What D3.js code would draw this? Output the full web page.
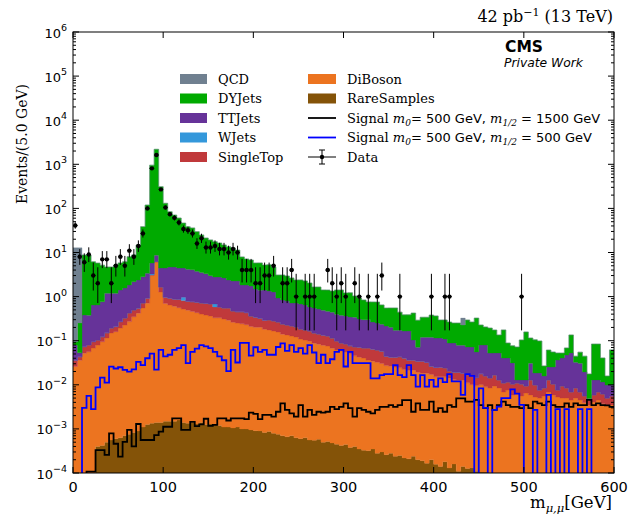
<!DOCTYPE html>
<html><head><meta charset="utf-8">
<script src="https://cdn.jsdelivr.net/npm/d3@7"></script>
<style>body{margin:0;background:#fff}svg{display:block}</style>
</head><body>
<svg id="chart" width="630" height="516"></svg>
<script>
// ---------------- data ----------------
const binWidth = 5;                       // GeV
const binLow = d3.range(0, 600, binWidth); // lower bin edges (categories)

const rareSamples = [0,0,0,0,0,0.0004,0.00042,0.0005,0.00056,0.0006,
0.00063,0.0007,0.00076,0.00083,0.0009,0.0011,0.00126,0.00135,0.0014,0.0014,
0.0015,0.0015,0.0015,0.0016,0.0014,0.00135,0.0014,0.0013,0.0014,0.00126,
0.0013,0.0013,0.0012,0.0011,0.0011,0.00105,0.0011,0.001,0.001,0.00095,
0.00091,0.0009,0.00083,0.00087,0.0008,0.00076,0.0007,0.00066,0.0007,0.00063,
0.0006,0.00063,0.00056,0.00055,0.00058,0.0005,0.00052,0.00048,0.00045,0.00042,
0.00044,0.00038,0.0004,0.00035,0.00033,0.00032,0.00035,0.00028,0.0003,0.00026,
0.00028,0.00024,0.00025,0.00022,0.00021,0.00024,0.0002,0.00019,0.000166,0.0002,
0.000158,0.00014,0.00018,0.00013,0.00016,0.00011,0.00014,0.000126,0.00013,0.00011,
0.000105,0.000105,0,0,0,0,0,0,0,0,
0,0,0,0,0,0,0,0,0,0,
0,0,0,0,0,0,0,0,0,0];

const diBoson = [0.026,0.036,0.052,0.056,0.068,0.079,0.094,0.115,0.149,0.16,
0.193,0.226,0.27,0.35,0.42,0.55,0.71,3.0,6.1,1.27,
0.70,0.64,0.60,0.56,0.52,0.49,0.46,0.43,0.40,0.38,
0.36,0.33,0.33,0.31,0.29,0.26,0.25,0.24,0.23,0.21,
0.20,0.20,0.18,0.175,0.165,0.157,0.14,0.134,0.127,0.12,
0.108,0.103,0.097,0.087,0.083,0.078,0.075,0.067,0.061,0.058,
0.055,0.05,0.045,0.042,0.040,0.036,0.034,0.032,0.030,0.027,
0.026,0.025,0.024,0.022,0.021,0.021,0.019,0.018,0.018,0.017,
0.015,0.015,0.015,0.014,0.013,0.0125,0.0125,0.011,0.0099,0.0094,
0.0099,0.0089,0.0085,0.0094,0.0085,0.0069,0.0076,0.0059,0.0062,0.0056,
0.0065,0.0059,0.0053,0.005,0.0056,0.0069,0.0059,0.0053,0.005,0.005,
0.0045,0.005,0.0045,0.0039,0.0035,0.0041,0.0045,0.0037,0.0035,0.0035];

const singleTop = [0.010,0.007,0.021,0.024,0.027,0.024,0.028,0.035,0.044,0.048,
0.076,0.10,0.155,0.147,0.12,0.165,0.21,0.1,0.1,0.38,
0.27,0.28,0.27,0.30,0.29,0.29,0.30,0.31,0.31,0.32,
0.32,0.25,0.25,0.24,0.26,0.21,0.20,0.21,0.20,0.15,
0.14,0.12,0.11,0.12,0.115,0.107,0.097,0.092,0.088,0.084,
0.075,0.071,0.068,0.061,0.058,0.055,0.052,0.047,0.037,0.030,
0.029,0.026,0.027,0.029,0.028,0.032,0.030,0.029,0.027,0.017,
0.016,0.017,0.019,0.018,0.015,0.015,0.015,0.016,0.014,0.009,
0.0095,0.010,0.009,0.0063,0.006,0.0066,0.0056,0.0057,0.006,0.005,
0.0077,0.0069,0.0058,0.0073,0.0044,0.0041,0.004,0.0045,0.0048,0.0048,
0.0029,0.007,0.0046,0.0026,0.0029,0.006,0.0045,0.0023,0.0044,0.0035,
0.0024,0.0035,0.0024,0.0017,0.001,0.0018,0.0024,0.0025,0.0015,0.0021];

const wJets = [0,0,0,0,0,0,0,0,0,0,
0,0,0,0,0,0,0,0.15,0,0,
0,0,0,0,0.155,0,0,0,0,0,
0,0.10,0,0,0,0,0,0,0,0,
0,0,0,0,0,0,0,0,0,0,
0,0,0,0,0,0,0,0,0,0,
0,0,0,0,0,0,0,0,0,0,
0,0,0,0,0,0,0,0,0,0,
0,0,0,0,0,0,0,0,0,0,
0,0,0,0,0,0,0,0,0,0,
0,0,0,0,0,0,0,0,0,0,
0,0,0,0,0,0,0,0,0,0];

const ttJets = [0.044,0.010,0.31,0.30,0.55,0.54,0.64,1.04,1.0,0.98,
1.14,1.24,1.41,1.68,1.84,2.11,2.45,2.5,2.5,2.8,
3.47,3.76,3.8,3.57,3.46,3.4,3.3,3.0,2.8,2.6,
2.3,2.1,2.2,2.09,1.83,1.79,1.81,1.38,1.4,1.38,
1.14,1.08,1.12,1.05,0.99,0.66,0.60,0.57,0.50,0.51,
0.50,0.47,0.415,0.40,0.38,0.36,0.34,0.33,0.30,0.29,
0.28,0.27,0.27,0.24,0.23,0.23,0.20,0.19,0.18,0.17,
0.16,0.13,0.13,0.125,0.13,0.067,0.037,0.086,0.088,0.094,
0.09,0.09,0.085,0.068,0.069,0.06,0.061,0.055,0.056,0.041,
0.062,0.064,0.038,0.036,0.040,0.0295,0.029,0.021,0.0019,0.0025,
0.0035,0.018,0.0086,0.011,0.0073,0.0124,0.015,0.029,0.031,0.039,
0.046,0.024,0.024,0.014,0.0004,0.007,0.006,0.0054,0.0049,0.0043];

const dyJets = [0.014,0.20,8.4,8.4,5.5,5.1,4.4,3.5,3.5,4.0,
4.4,4.6,6.2,6.6,12.4,35.7,116,951,2180,306,
126,79,66,56,42,34,32,26,21.5,18,
16.3,14.8,13.6,12.2,11.1,10.4,9.1,6.1,5.3,5.0,
4.3,4.4,3.8,3.9,3.4,2.16,2.25,2.13,1.93,1.66,
1.70,1.62,1.45,1.10,1.13,0.92,0.94,0.89,1.01,1.03,
0.85,0.87,0.69,0.62,0.54,0.46,0.49,0.50,0.41,0.335,
0.35,0.38,0.27,0.22,0.22,0.32,0.22,0.22,0.22,0.26,
0.25,0.18,0.186,0.176,0.163,0.172,0.147,0.223,0.193,0.27,
0.147,0.125,0.141,0.122,0.082,0.135,0.048,0.045,0.059,0.091,
0.145,0.084,0.086,0.08,0.011,0.036,0.030,0.016,0.012,0.021,
0.082,0.012,0.024,0.025,0.0127,0.071,0.071,0.029,0.0059,0.052];

const qcd = [12.7,12.5,0,0,0,0,0,0,0,0,
0,0,0,0,0,0,0,0,0,0,
0,0,0,0,0,0,0,0,0,0,
0,0,0,0,0,0,0,0,0,0,
0,0,0,0,0,0,0,0,0,0,
0,0,0,0,0,0,0,0,0,0,
0,0,0,0,0,0,0,0,0,0,
0,0,0,0,0,0,0,0,0,0,
0,0,0,0,0,0,0.10,0,0,0,
0,0,0,0,0,0,0,0,0,0,
0,0,0,0,0,0,0,0,0,0,
0,0,0,0,0,0,0,0,0,0];

const signal1500 = [0,0,0,0.000107,0.000107,0.00033,0.00033,0.000257,0.00079,0.00046,
0.000234,0.00051,0.00095,0.0004,0.00129,0.00056,0.00056,0.00056,0.00072,0.00087,
0.00112,0.00112,0.00174,0.00174,0.00095,0.00095,0.00145,0.00115,0.00126,0.0017,
0.00117,0.00123,0.00174,0.00174,0.00155,0.00174,0.00174,0.00174,0.00166,0.00234,
0.00219,0.00166,0.00209,0.00209,0.0019,0.00245,0.0038,0.0027,0.00224,0.0019,
0.00347,0.0019,0.0027,0.00209,0.00245,0.00234,0.00245,0.00316,0.00282,0.00316,
0.0038,0.00295,0.0019,0.00295,0.0027,0.00245,0.00224,0.0027,0.00316,0.00316,
0.00347,0.00316,0.00347,0.00447,0.00447,0.00245,0.0038,0.0027,0.0027,0.00417,
0.00245,0.00295,0.00245,0.00347,0.00316,0.0049,0.0049,0.00417,0.00417,0.00457,
0.00347,0.00295,0.00347,0.0027,0.00347,0.00417,0.00347,0.00316,0.00316,0.00295,
0.00347,0.00295,0.00417,0.0038,0.00347,0.00417,0.00347,0.00316,0.00316,0.0038,
0.00316,0.0038,0.00347,0.00347,0.00457,0.00347,0.0038,0.00347,0.0034,0.00316];

const signal500 = [0,0,0.003,0.0056,0.0028,0.0087,0.0145,0.0112,0.0257,0.0234,
0.025,0.0219,0.02,0.0224,0.033,0.028,0.04,0.051,0.022,0.062,
0.044,0.048,0.062,0.068,0.079,0.031,0.056,0.066,0.079,0.074,
0.068,0.056,0.044,0.036,0.0204,0.062,0.032,0.089,0.089,0.046,
0.071,0.056,0.062,0.048,0.048,0.072,0.087,0.059,0.079,0.056,
0.068,0.051,0.079,0.054,0.031,0.048,0.031,0.038,0.056,0.062,
0.026,0.056,0.031,0.031,0.031,0.031,0.014,0.014,0.0166,0.0174,
0.0174,0.028,0.0166,0.015,0.028,0.0166,0.0091,0.0166,0.0091,0.0129,
0.0091,0.014,0.0115,0.0174,0.012,0.012,0.0059,0.0174,0.016,0,
0.0083,0.003,0,0.0027,0.0032,0.005,0.005,0.0079,0.0063,0.0035,
0,0,0.0027,0,0,0.0059,0,0.0028,0,0.0028,
0,0,0.0028,0,0.0028,0,0,0,0,0];

const dataCounts = [41,8,6,9,3,2,7,7,2,5,
8,5,11,8,14,27,100,810,1620,270,
105,74,61,48,34,32,27,16,21,13,
13,14,12,12,10,12,10,4,4,4,
2,2,3,3,5,0,2,2,4,1,
0,1,1,1,0,0,4,2,1,2,
1,0,2,1,0,1,0,1,3,0,
0,0,1,0,0,0,0,0,0,1,
0,0,1,1,0,0,0,0,0,0,
0,0,0,0,0,0,0,0,0,1,
0,0,0,0,0,0,0,0,0,0,
0,0,0,0,0,0,0,0,0,0];

const yTickExponents = [-4,-3,-2,-1,0,1,2,3,4,5,6];
const xTickValues = [0,100,200,300,400,500,600];

const stackKeys = ["RareSamples","DiBoson","SingleTop","WJets","TTJets","DYJets","QCD"];
const seriesData = {RareSamples:rareSamples, DiBoson:diBoson, SingleTop:singleTop,
  WJets:wJets, TTJets:ttJets, DYJets:dyJets, QCD:qcd};
const fillColor = {QCD:"#708090", DYJets:"#00aa00", TTJets:"#663399", WJets:"#3498db",
  SingleTop:"#c0393b", DiBoson:"#ec7420", RareSamples:"#845308"};

// ---------------- layout ----------------
const L = 73, R = 614, T = 32, B = 473;
const svg = d3.select("#chart");
const x = d3.scaleLinear().domain([0, 600]).range([L, R]);
const y = d3.scaleLog().domain([1e-4, 1e6]).range([B, T]);
const FLOOR = 1e-6;
const yv = v => y(Math.max(v, FLOOR));

svg.append("defs").append("clipPath").attr("id","plotclip")
  .append("rect").attr("x",L).attr("y",T).attr("width",R-L).attr("height",B-T);
const plot = svg.append("g").attr("clip-path","url(#plotclip)");

// stacked histogram
const rows = binLow.map((b,i) => { const r = {bin:b}; stackKeys.forEach(k => r[k] = seriesData[k][i]); return r; });
const stacked = d3.stack().keys(stackKeys)(rows);
const area = d3.area().x(p => x(p.x)).y0(p => yv(p.lo)).y1(p => yv(p.hi));
stacked.forEach(layer => {
  const pts = [];
  layer.forEach((d,i) => {
    pts.push({x:binLow[i], lo:d[0], hi:d[1]}, {x:binLow[i]+binWidth, lo:d[0], hi:d[1]});
  });
  plot.append("path").attr("d", area(pts)).attr("fill", fillColor[layer.key])
    .attr("stroke", fillColor[layer.key]).attr("stroke-width", 0.3);
});

// signal step lines
const stepLine = d3.line().x(p => x(p.x)).y(p => yv(p.v));
function drawStep(vals, color) {
  const pts = [];
  vals.forEach((v,i) => pts.push({x:binLow[i], v}, {x:binLow[i]+binWidth, v}));
  plot.append("path").attr("d", stepLine(pts)).attr("fill","none")
    .attr("stroke", color).attr("stroke-width", 1.8).attr("stroke-linejoin","miter");
}
drawStep(signal1500, "#000000");
drawStep(signal500, "#0000ff");

// data points with Poisson (Garwood) errors
const errLo = n => n * Math.pow(1 - 1/(9*n) - 1/(3*Math.sqrt(n)), 3);
const errHi = n => (n+1) * Math.pow(1 - 1/(9*(n+1)) + 1/(3*Math.sqrt(n+1)), 3);
const dg = plot.append("g");
dataCounts.forEach((n,i) => {
  if (n <= 0) return;
  const cx = x(binLow[i] + binWidth/2), cy = y(n);
  dg.append("line").attr("x1",cx).attr("x2",cx).attr("y1",y(errHi(n))).attr("y2",y(errLo(n)))
    .attr("stroke","#000").attr("stroke-width",1);
  dg.append("line").attr("x1",x(binLow[i])).attr("x2",x(binLow[i]+binWidth)).attr("y1",cy).attr("y2",cy)
    .attr("stroke","#000").attr("stroke-width",1);
  dg.append("circle").attr("cx",cx).attr("cy",cy).attr("r",2.2).attr("fill","#000");
});

// ---------------- axes ----------------
const ax = svg.append("g");
ax.append("rect").attr("x",L).attr("y",T).attr("width",R-L).attr("height",B-T)
  .attr("fill","none").attr("stroke","#000").attr("stroke-width",1);
yTickExponents.forEach(e => {
  const yy = y(Math.pow(10,e));
  ax.append("line").attr("x1",L).attr("x2",L+6).attr("y1",yy).attr("y2",yy).attr("stroke","#000");
  ax.append("line").attr("x1",R).attr("x2",R-6).attr("y1",yy).attr("y2",yy).attr("stroke","#000");
  if (e < 6) for (let m=2; m<10; m++) {
    const ym = y(m*Math.pow(10,e));
    ax.append("line").attr("x1",L).attr("x2",L+3).attr("y1",ym).attr("y2",ym).attr("stroke","#000");
    ax.append("line").attr("x1",R).attr("x2",R-3).attr("y1",ym).attr("y2",ym).attr("stroke","#000");
  }
  const t = ax.append("text").attr("x",67).attr("y",yy+5.5).attr("text-anchor","end")
    .attr("font-family","DejaVu Sans").attr("font-size",13);
  t.append("tspan").text("10");
  t.append("tspan").attr("dy",-6.5).attr("font-size",9.5).text(String(e).replace("-","\u2212"));
});
xTickValues.forEach(v => {
  const xx = x(v);
  ax.append("line").attr("x1",xx).attr("x2",xx).attr("y1",B).attr("y2",B-6).attr("stroke","#000");
  ax.append("line").attr("x1",xx).attr("x2",xx).attr("y1",T).attr("y2",T+6).attr("stroke","#000");
  ax.append("text").attr("x",xx).attr("y",B+19).attr("text-anchor","middle")
    .attr("font-family","DejaVu Sans").attr("font-size",14.5).text(v);
});

// axis labels
svg.append("text").attr("transform","translate(27,144) rotate(-90)").attr("text-anchor","middle")
  .attr("font-family","DejaVu Serif").attr("font-size",14).text("Events/(5.0 GeV)");
const xl = svg.append("text").attr("x",612).attr("y",508).attr("text-anchor","end")
  .attr("font-family","DejaVu Serif").attr("font-size",16.5);
xl.append("tspan").text("m");
xl.append("tspan").attr("dy",4).attr("font-size",11.5).attr("font-style","italic").text("\u03bc,\u03bc");
xl.append("tspan").attr("dy",-4).text("[GeV]");

// title / labels
const tt = svg.append("text").attr("x",613).attr("y",22).attr("text-anchor","end")
  .attr("font-family","DejaVu Serif").attr("font-size",16);
tt.append("tspan").text("42 pb");
tt.append("tspan").attr("dy",-6.5).attr("font-size",11).text("\u22121");
tt.append("tspan").attr("dy",6.5).text(" (13 TeV)");
svg.append("text").attr("x",505).attr("y",52).attr("font-family","DejaVu Sans").attr("font-weight","bold")
  .attr("font-size",15.5).text("CMS");
svg.append("text").attr("x",504).attr("y",67).attr("font-family","DejaVu Sans").attr("font-style","italic")
  .attr("font-size",12.3).text("Private Work");

// ---------------- legend ----------------
const lg = svg.append("g");
const rowY = [79, 98.5, 118, 137.5, 157];
const leftKeys = ["QCD","DYJets","TTJets","WJets","SingleTop"];
leftKeys.forEach((k,i) => {
  lg.append("rect").attr("x",180).attr("y",rowY[i]-5).attr("width",27).attr("height",10).attr("fill",fillColor[k]);
  lg.append("text").attr("x",218).attr("y",rowY[i]+4.5).attr("font-family","DejaVu Serif").attr("font-size",13).text(k);
});
["DiBoson","RareSamples"].forEach((k,i) => {
  lg.append("rect").attr("x",308).attr("y",rowY[i]-5).attr("width",28).attr("height",10).attr("fill",fillColor[k]);
  lg.append("text").attr("x",347).attr("y",rowY[i]+4.5).attr("font-family","DejaVu Serif").attr("font-size",13).text(k);
});
function signalLabel(yy, m12) {
  const t = lg.append("text").attr("x",347).attr("y",yy+4.5).attr("font-size",13);
  t.append("tspan").attr("font-family","DejaVu Serif").text("Signal ");
  t.append("tspan").attr("font-family","DejaVu Serif").attr("font-style","italic").text("m");
  t.append("tspan").attr("font-family","DejaVu Serif").attr("font-style","italic").attr("font-size",9).attr("dy",3).text("0");
  t.append("tspan").attr("font-family","DejaVu Sans").attr("dy",-3).text("= 500 GeV, ");
  t.append("tspan").attr("font-family","DejaVu Serif").attr("font-style","italic").text("m");
  t.append("tspan").attr("font-family","DejaVu Serif").attr("font-style","italic").attr("font-size",9).attr("dy",3).text("1/2");
  t.append("tspan").attr("font-family","DejaVu Sans").attr("dy",-3).text(" = " + m12 + " GeV");
}
lg.append("line").attr("x1",308).attr("x2",336).attr("y1",rowY[2]).attr("y2",rowY[2]).attr("stroke","#000").attr("stroke-width",1.8);
signalLabel(rowY[2], 1500);
lg.append("line").attr("x1",308).attr("x2",336).attr("y1",rowY[3]).attr("y2",rowY[3]).attr("stroke","#0000ff").attr("stroke-width",1.8);
signalLabel(rowY[3], 500);
// data legend marker
const dy0 = rowY[4];
lg.append("line").attr("x1",308).attr("x2",336).attr("y1",dy0).attr("y2",dy0).attr("stroke","#000");
lg.append("line").attr("x1",322).attr("x2",322).attr("y1",dy0-7).attr("y2",dy0+7).attr("stroke","#000");
lg.append("line").attr("x1",319).attr("x2",325).attr("y1",dy0-7).attr("y2",dy0-7).attr("stroke","#000");
lg.append("line").attr("x1",319).attr("x2",325).attr("y1",dy0+7).attr("y2",dy0+7).attr("stroke","#000");
lg.append("circle").attr("cx",322).attr("cy",dy0).attr("r",2.2).attr("fill","#000");
lg.append("text").attr("x",347).attr("y",dy0+4.5).attr("font-family","DejaVu Serif").attr("font-size",13).text("Data");
</script>
</body></html>
